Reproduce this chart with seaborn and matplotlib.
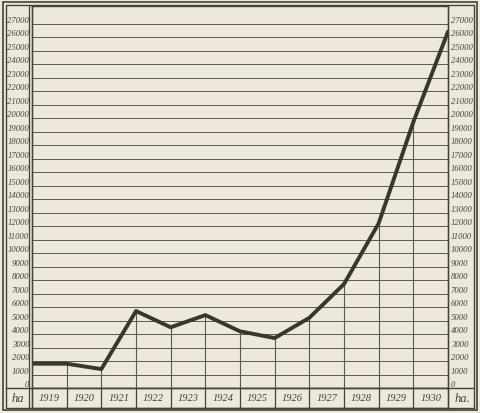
import numpy as np
import pandas as pd
import seaborn as sns
import matplotlib.pyplot as plt
from matplotlib.patches import Rectangle
from matplotlib.lines import Line2D

# data: area (ha) read at each year boundary, 1919 start .. 1930 end
years = ["1919", "1920", "1921", "1922", "1923", "1924",
         "1925", "1926", "1927", "1928", "1929", "1930"]
boundary = list(range(13))
hectares = [1800, 1800, 1400, 5700, 4500, 5400, 4200,
            3700, 5200, 7700, 12200, 19700, 26400]
y_ticks = list(range(0, 28000, 1000))
y_labels = [str(v) if v else "0" for v in y_ticks]

paper = "#eee8da"
ink = "#45403a"
grid_ink = "#5c574f"

sns.set_theme(style="white", rc={"figure.facecolor": paper,
                                 "axes.facecolor": paper})
plt.rcParams["font.family"] = ["Liberation Serif", "DejaVu Serif"]

W, H = 480, 414
fig = plt.figure(figsize=(W / 100, H / 100), dpi=100)


def fx(px):
    return px / W


def fy(py):
    return 1 - py / H


# main plot area
x0, x1, ytop, ybot = 32, 448, 7, 389
ax = fig.add_axes([fx(x0), fy(ybot), fx(x1 - x0), (ybot - ytop) / H])
df = pd.DataFrame({"x": boundary, "ha": hectares})

for v in y_ticks[1:]:
    ax.axhline(v, color=grid_ink, lw=0.7, zorder=1)
ax.vlines(df["x"][1:-1], 0, df["ha"][1:-1], color=grid_ink, lw=0.8, zorder=1)
sns.lineplot(data=df, x="x", y="ha", ax=ax, color="#3a3530", lw=2.8,
             zorder=3)

ax.set_xlim(0, 12)
ax.set_ylim(0, 28300)
ax.set_xticks([])
ax.set_xlabel("")
ax.set_ylabel("")
ax.set_yticks(y_ticks)
ax.set_yticklabels(y_labels)
ax.tick_params(axis="y", length=0, pad=2, labelsize=6.2, labelcolor=ink,
               left=False, right=False, labelleft=True, labelright=True)
for lab in ax.get_yticklabels():
    lab.set_style("italic")
    lab.set_verticalalignment("bottom")
for side in ax.spines.values():
    side.set_color(ink)
    side.set_linewidth(1.0)

# bottom row with year labels
axb = fig.add_axes([fx(x0), fy(409), fx(x1 - x0), 20 / H])
axb.set_xlim(0, 12)
axb.set_ylim(0, 1)
axb.set_xticks([])
axb.set_yticks([])
for i in range(1, 12):
    axb.axvline(i, color=ink, lw=0.9)
for i, yr in enumerate(years):
    axb.text(i + 0.5, 0.5, yr, ha="center", va="center", fontsize=7.5,
             style="italic", color=ink)
axb.text(-0.4, 0.5, "ha", ha="center", va="center", fontsize=9,
         style="italic", color=ink, clip_on=False)
axb.text(12.4, 0.5, "ha.", ha="center", va="center", fontsize=9,
         style="italic", color=ink, clip_on=False)
for side in axb.spines.values():
    side.set_color(ink)
    side.set_linewidth(1.0)

# outer frame (double line) and side columns
for (l, t, r, b), lw in [((3, 3, 477, 411), 1.2), ((6, 6, 474, 409), 1.0)]:
    fig.add_artist(Rectangle((fx(l), fy(b)), fx(r - l), (b - t) / H,
                             transform=fig.transFigure, fill=False,
                             edgecolor=ink, lw=lw))
for px in (29, 32, 448):
    fig.add_artist(Line2D([fx(px), fx(px)], [fy(6), fy(409)],
                          transform=fig.transFigure, color=ink, lw=0.9))
fig.add_artist(Line2D([fx(6), fx(474)], [fy(389), fy(389)],
                      transform=fig.transFigure, color=ink, lw=1.0))

fig.savefig("out.png", dpi=100, facecolor=paper)
